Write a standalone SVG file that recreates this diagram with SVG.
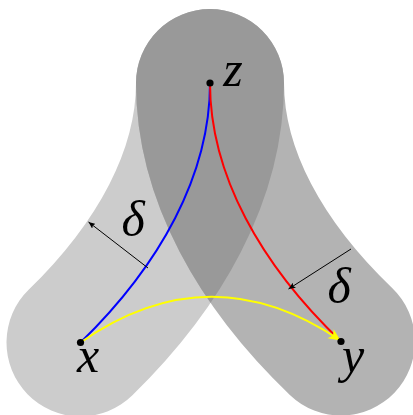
<svg xmlns="http://www.w3.org/2000/svg" width="413" height="415" viewBox="0 0 413 415">
<style>
.band{fill:none;stroke-width:148;stroke-linecap:round;stroke-linejoin:round}
.curve{fill:none;stroke-width:2}
.dim{fill:none;stroke:#000;stroke-width:1}
.lbl{font-family:"Liberation Serif","Times New Roman",serif;font-style:italic;font-size:50px;fill:#000;text-anchor:middle}
</style>
<defs>
<path id="pb" d="M210,83 C210,175 160,265 80.5,342.5"/>
<path id="pr" d="M210,83 C210,175 261,265 341,341.5"/>
<mask id="mr" maskUnits="userSpaceOnUse" x="0" y="0" width="413" height="415">
<use href="#pr" class="band" stroke="#fff"/>
</mask>
<marker id="ah" viewBox="-7 -3 8 6" refX="0" refY="0" markerWidth="8" markerHeight="6" markerUnits="userSpaceOnUse" orient="auto">
<path d="M0,0 L-7,-3 L-5.5,0 L-7,3 Z" fill="#000"/>
</marker>
<marker id="ya" viewBox="-13 -6 14 12" refX="0" refY="0" markerWidth="14" markerHeight="12" markerUnits="userSpaceOnUse" orient="auto">
<path d="M0,0 L-12,-5.5 L-9,0 L-12,5.5 Z" fill="#ffff00"/>
</marker>
</defs>
<g id="bands">
<use href="#pb" class="band" stroke="#cccccc"/>
<use href="#pr" class="band" stroke="#b3b3b3"/>
<use href="#pb" class="band" stroke="#999999" mask="url(#mr)"/>
</g>
<g id="connectors">
<use id="blue" href="#pb" class="curve" stroke="#0000ff"/>
<use id="red" href="#pr" class="curve" stroke="#ff0000"/>
<path id="yellow" d="M80.5,342.5 Q210,252 340.5,340.5" class="curve" stroke="#ffff00" marker-end="url(#ya)"/>
<path id="delta1" d="M148,268 L88.5,222" class="dim" marker-end="url(#ah)"/>
<path id="delta2" d="M351,249 L288.5,289" class="dim" marker-end="url(#ah)"/>
</g>
<g id="node-x">
<circle cx="80.5" cy="342.5" r="3.6" fill="#000"/>
<text class="lbl" x="88" y="372">x</text>
</g>
<g id="node-y">
<circle cx="341" cy="341.5" r="3.6" fill="#000"/>
<text class="lbl" x="353" y="372">y</text>
</g>
<g id="node-z">
<circle cx="210" cy="83" r="3.6" fill="#000"/>
<text class="lbl" x="233" y="86">z</text>
</g>
<g id="labels">
<text class="lbl" x="133" y="236">δ</text>
<text class="lbl" x="339" y="303">δ</text>
</g>
</svg>
